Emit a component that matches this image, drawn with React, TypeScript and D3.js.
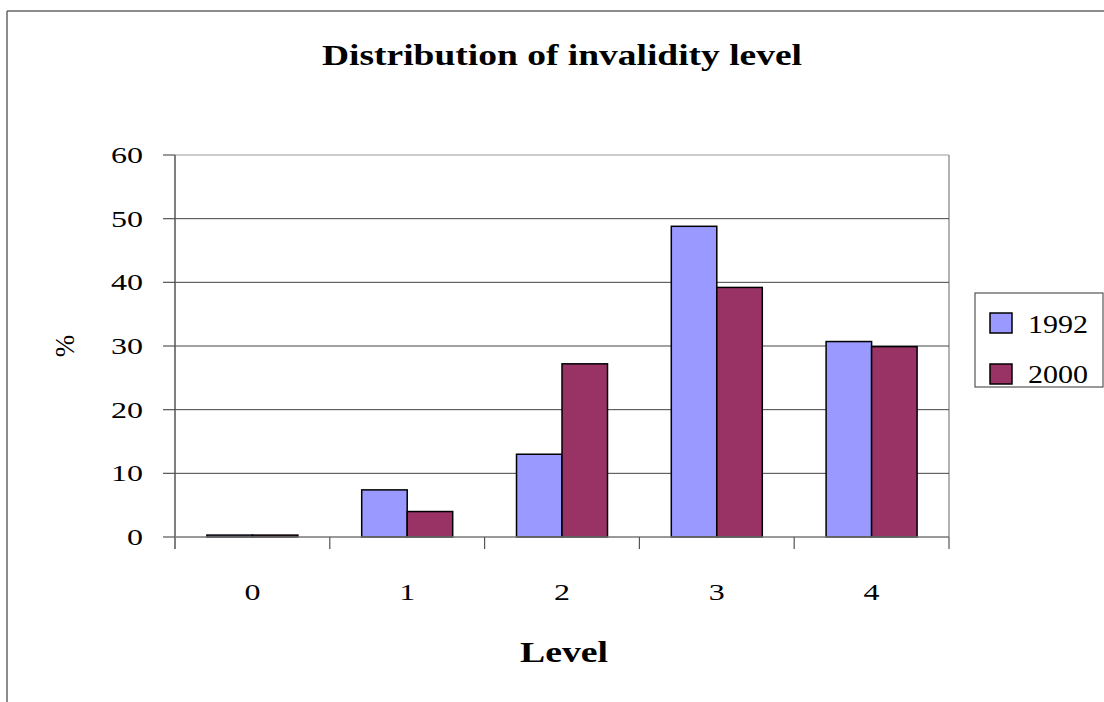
import React from "react";
import * as d3 from "d3";

const categories = ["0", "1", "2", "3", "4"];
const seriesNames = ["1992", "2000"];
const values1992 = [0.3, 7.4, 13.0, 48.8, 30.7];
const values2000 = [0.3, 4.0, 27.2, 39.2, 29.9];
const yTicks = [0, 10, 20, 30, 40, 50, 60];
const colors = ["#9999FF", "#993366"];

const W = 1104, H = 702;
const plot = { left: 175, top: 155, right: 949, bottom: 537 };
const font = "'Liberation Serif', 'Times New Roman', serif";

export default function App() {
  const x = d3.scaleBand<string>().domain(categories).range([plot.left, plot.right]).paddingInner(0).paddingOuter(0);
  const y = d3.scaleLinear().domain([0, 60]).range([plot.bottom, plot.top]);
  const barW = 45.5;
  const series = [values1992, values2000];

  return (
    <svg width={W} height={H} style={{ position: "absolute", left: 0, top: 0, background: "#fff" }}>
      <rect x={0} y={0} width={W} height={H} fill="#fff" />
      {/* outer frame */}
      <line x1={7} y1={11} x2={W} y2={11} stroke="#666" strokeWidth={1.5} />
      <line x1={7} y1={11} x2={7} y2={H} stroke="#666" strokeWidth={1.5} />
      {/* title */}
      <text x={562} y={65} textAnchor="middle" fontFamily={font} fontWeight="bold" fontSize={30} fill="#000"
        textLength={480} lengthAdjust="spacingAndGlyphs">
        Distribution of invalidity level
      </text>
      {/* plot border top/right */}
      <line x1={plot.left} y1={plot.top} x2={plot.right} y2={plot.top} stroke="#999" strokeWidth={1} />
      <line x1={plot.right} y1={plot.top} x2={plot.right} y2={plot.bottom} stroke="#999" strokeWidth={1.5} />
      {/* gridlines */}
      {yTicks.filter(t => t > 0 && t < 60).map(t => (
        <line key={t} x1={plot.left} x2={plot.right} y1={y(t)} y2={y(t)} stroke="#444" strokeWidth={1} />
      ))}
      {/* bars */}
      {categories.map((c, i) => {
        const cx = (x(c) as number) + x.bandwidth() / 2;
        return series.map((s, j) => {
          const bx = cx - barW + j * barW;
          const top = y(s[i]);
          return (
            <rect key={c + j} x={bx} y={top} width={barW} height={plot.bottom - top}
              fill={colors[j]} stroke="#000" strokeWidth={1.5} />
          );
        });
      })}
      {/* y axis */}
      <line x1={plot.left} y1={plot.top} x2={plot.left} y2={plot.bottom + 12} stroke="#555" strokeWidth={1.5} />
      {yTicks.map(t => (
        <g key={t}>
          <line x1={plot.left - 12} x2={plot.left} y1={y(t)} y2={y(t)} stroke="#555" strokeWidth={1.2} />
          <text x={143} y={y(t) + 8} textAnchor="end" fontFamily={font} fontSize={24} fill="#000"
            textLength={16 * String(t).length} lengthAdjust="spacingAndGlyphs">{t}</text>
        </g>
      ))}
      {/* x axis */}
      <line x1={plot.left} y1={plot.bottom} x2={plot.right} y2={plot.bottom} stroke="#777" strokeWidth={1.5} />
      {categories.map(c => (
        <line key={"t" + c} x1={(x(c) as number) + x.bandwidth()} x2={(x(c) as number) + x.bandwidth()}
          y1={plot.bottom} y2={plot.bottom + 12} stroke="#555" strokeWidth={1.2} />
      ))}
      {categories.map(c => (
        <text key={"l" + c} x={(x(c) as number) + x.bandwidth() / 2} y={600} textAnchor="middle"
          fontFamily={font} fontSize={24} fill="#000" textLength={16} lengthAdjust="spacingAndGlyphs">{c}</text>
      ))}
      {/* axis titles */}
      <text x={564} y={662} textAnchor="middle" fontFamily={font} fontWeight="bold" fontSize={30} fill="#000"
        textLength={88} lengthAdjust="spacingAndGlyphs">Level</text>
      <text transform={`translate(74,346) rotate(-90)`} textAnchor="middle" fontFamily={font} fontSize={27} fill="#000">%</text>
      {/* legend */}
      <rect x={975} y={293} width={128} height={94} fill="#fff" stroke="#555" strokeWidth={1.2} />
      {seriesNames.map((n, j) => (
        <g key={n}>
          <rect x={990} y={313 + j * 51} width={22} height={20} fill={colors[j]} stroke="#000" strokeWidth={1.5} />
          <text x={1028} y={333 + j * 50} fontFamily={font} fontSize={26} fill="#000"
            textLength={60} lengthAdjust="spacingAndGlyphs">{n}</text>
        </g>
      ))}
    </svg>
  );
}
